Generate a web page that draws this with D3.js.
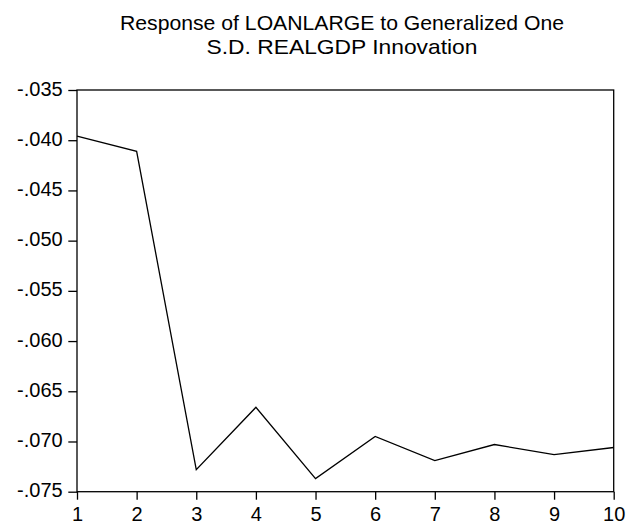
<!DOCTYPE html>
<html>
<head>
<meta charset="utf-8">
<script src="https://cdn.jsdelivr.net/npm/d3@7"></script>
<style>
  body { margin: 0; background: #fff; }
  text { font-family: "Liberation Sans", Arial, sans-serif; fill: #000; }
</style>
</head>
<body>
<div id="chart"></div>
<script>
// impulse response, periods 1..10
var periods = [1, 2, 3, 4, 5, 6, 7, 8, 9, 10];
var response = [-0.0396, -0.0411, -0.0728, -0.0666, -0.0737, -0.0695, -0.0719, -0.0703, -0.0713, -0.0706];
var yTicks = [-0.035, -0.040, -0.045, -0.050, -0.055, -0.060, -0.065, -0.070, -0.075];
var titleLines = ["Response of LOANLARGE to Generalized One", "S.D. REALGDP Innovation"];
var titleWidths = [444, 271];

var W = 627, H = 527;
var margin = { top: 90, right: 13.3, bottom: 35.3, left: 77 };
var width = W - margin.left - margin.right;
var height = H - margin.top - margin.bottom;

var svg = d3.select("#chart").append("svg")
    .attr("width", W)
    .attr("height", H);

var g = svg.append("g")
    .attr("transform", "translate(" + margin.left + "," + margin.top + ")");

var x = d3.scaleLinear().domain([1, 10]).range([0, width]);
var y = d3.scaleLinear().domain([-0.075, -0.035]).range([height, 0]);

// title, two lines
svg.selectAll(".title")
    .data(titleLines)
    .join("text")
    .attr("class", "title")
    .attr("x", 342)
    .attr("y", function (d, i) { return 29.5 + i * 24; })
    .attr("text-anchor", "middle")
    .attr("font-size", "21px")
    .attr("textLength", function (d, i) { return titleWidths[i]; })
    .attr("lengthAdjust", "spacingAndGlyphs")
    .text(function (d) { return d; });

// frame
g.append("rect")
    .attr("width", width)
    .attr("height", height)
    .attr("fill", "none")
    .attr("stroke", "#000")
    .attr("stroke-width", 1.3);

// axes
var fmtY = function (d) { return "-" + d3.format(".3f")(Math.abs(d)).replace(/^0/, ""); };

var yAxis = g.append("g")
    .call(d3.axisLeft(y).tickValues(yTicks).tickSize(8.7).tickPadding(5.6).tickFormat(fmtY));
var xAxis = g.append("g")
    .attr("transform", "translate(0," + height + ")")
    .call(d3.axisBottom(x).tickValues(periods).tickSize(8).tickPadding(7.3)
        .tickFormat(d3.format("d")));

[yAxis, xAxis].forEach(function (a) {
    a.select(".domain").remove();
    a.selectAll("line").attr("stroke", "#000").attr("stroke-width", 1.3);
    a.selectAll("text")
        .attr("font-size", "20px")
        .attr("font-family", "Liberation Sans, Arial, sans-serif")
        .attr("fill", "#000");
});
yAxis.selectAll("text").attr("dy", "0.25em");

// response line
var line = d3.line()
    .x(function (d, i) { return x(periods[i]); })
    .y(function (d) { return y(d); });

g.append("path")
    .datum(response)
    .attr("fill", "none")
    .attr("stroke", "#000")
    .attr("stroke-width", 1.3)
    .attr("d", line);
</script>
</body>
</html>
